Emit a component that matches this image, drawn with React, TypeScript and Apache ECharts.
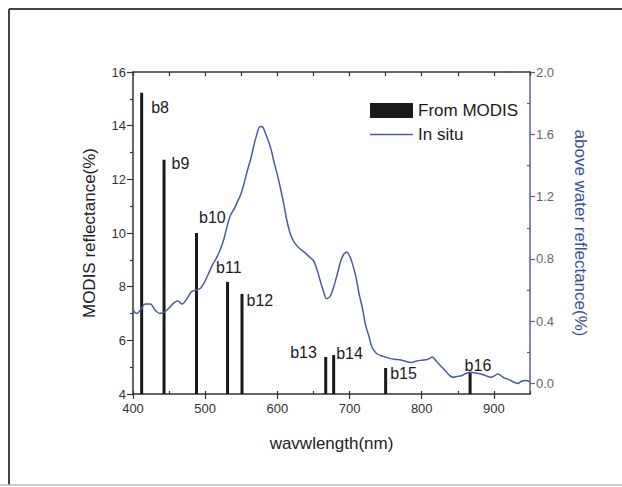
import React, { useEffect, useRef } from "react";
import * as echarts from "echarts";

const bandNames = ["b8", "b9", "b10", "b11", "b12", "b13", "b14", "b15", "b16"];
const bandWavelengths = [412, 443, 488, 531, 551, 667, 678, 750, 867];
const modisReflectance = [15.23, 12.73, 10.0, 8.18, 7.73, 5.38, 5.45, 4.97, 4.78];
// label placement (style), relative to bar top-left
const labelOffsets = [
  [11, 7], [9, -4], [4, -24], [-10, -22], [6, -1], [-34, -12], [4, -10], [6, -2], [-4, -16],
];

const insituWavelengths = [
  400, 405, 410, 417, 424, 431, 437, 444, 451, 457, 462, 468, 474, 481, 487, 493, 499, 504, 510, 516,
  521, 526, 531, 535, 540, 544, 549, 553, 558, 563, 567, 571, 576, 580, 584, 588, 592, 596, 600, 604,
  609, 613, 618, 623, 630, 637, 644, 650, 655, 660, 664, 668, 673, 678, 684, 688, 692, 696, 700, 704,
  709, 713, 718, 722, 727, 731, 737, 743, 750, 757, 765, 772, 780, 786, 793, 800, 808, 815, 820, 826,
  832, 838, 843, 849, 855, 861, 868, 875, 882, 889, 896, 901, 905, 910, 915, 919, 925, 930, 933, 938,
  944, 950,
];
const insituReflectance = [
  0.47, 0.45, 0.47, 0.51, 0.51, 0.47, 0.45, 0.46, 0.49, 0.52, 0.53, 0.51, 0.54, 0.59, 0.6, 0.61, 0.65, 0.7, 0.76, 0.81,
  0.86, 0.93, 1.02, 1.08, 1.12, 1.16, 1.21, 1.27, 1.36, 1.44, 1.52, 1.59, 1.65, 1.645, 1.6, 1.55, 1.49, 1.41, 1.34, 1.26,
  1.15, 1.05, 0.96, 0.91, 0.87, 0.845, 0.815, 0.79, 0.73, 0.65, 0.59, 0.545, 0.56, 0.62, 0.72, 0.79, 0.83, 0.845, 0.82, 0.77,
  0.68, 0.58, 0.48, 0.38, 0.3, 0.235, 0.195, 0.18, 0.17, 0.16, 0.155, 0.15, 0.14, 0.135, 0.145, 0.15, 0.155, 0.17, 0.145, 0.115,
  0.085, 0.055, 0.04, 0.045, 0.05, 0.065, 0.073, 0.068, 0.062, 0.05, 0.04, 0.05, 0.062, 0.05, 0.035, 0.03, 0.015, 0.005, 0.0, 0.015,
  0.02, 0.012,
];

const xTickLabels = [400, 500, 600, 700, 800, 900];
const rightTickLabels = [0, 0.4, 0.8, 1.2, 1.6, 2.0];
const rightMinorTicks = [0.2, 0.6, 1.0, 1.4, 1.8];

const FONT = "'Liberation Sans', Arial, Helvetica, sans-serif";
const LINE_COLOR = "#4a5d9c";

export default function App() {
  const ref = useRef<HTMLDivElement>(null);

  useEffect(() => {
    if (!ref.current) return;
    const chart = echarts.init(ref.current, undefined, { renderer: "svg" });
    const axisColor = "#333";
    const rightColor = "#56638a";
    chart.setOption({
      animation: false,
      backgroundColor: "#ffffff",
      textStyle: { fontFamily: FONT },
      grid: { left: 133, right: 92, top: 72, bottom: 93 },
      legend: {
        data: [
          { name: "From MODIS", icon: "rect" },
          {
            name: "In situ",
            icon: "path://M0,0 L43,0 L43,1.6 L0,1.6 Z",
            itemStyle: { color: LINE_COLOR, borderWidth: 0 },
          },
        ],
        orient: "vertical",
        left: 365,
        top: 97,
        itemWidth: 43,
        itemHeight: 15,
        itemGap: 7,
        symbolKeepAspect: true,
        selectedMode: false,
        textStyle: { fontSize: 17, color: "#1a1a1a", fontFamily: FONT },
      },
      xAxis: [
        {
          type: "value",
          position: "bottom",
          min: 400,
          max: 950,
          axisLine: { onZero: false, lineStyle: { color: axisColor, width: 1.5 } },
          axisTick: { customValues: xTickLabels, length: 5, lineStyle: { color: axisColor, width: 1.2 } },
          axisLabel: { customValues: xTickLabels, fontSize: 13, color: "#333", margin: 8, fontFamily: FONT },
          splitLine: { show: false },
          name: "wavwlength(nm)",
          nameLocation: "middle",
          nameGap: 41,
          nameTextStyle: { fontSize: 17, color: "#222", fontFamily: FONT },
        },
        {
          type: "value",
          position: "top",
          min: 400,
          max: 950,
          interval: 50,
          axisLine: { show: true, onZero: false, lineStyle: { color: axisColor, width: 1.5 } },
          axisTick: { show: true, inside: true, length: 4, lineStyle: { color: axisColor, width: 1.2 } },
          axisLabel: { show: false },
          splitLine: { show: false },
        },
        {
          type: "value",
          position: "bottom",
          min: 400,
          max: 950,
          interval: 50,
          axisLine: { show: false, onZero: false },
          axisTick: { show: true, inside: true, length: 3, lineStyle: { color: axisColor, width: 1.2 } },
          axisLabel: { show: false },
          splitLine: { show: false },
        },
      ],
      yAxis: [
        {
          type: "value",
          position: "left",
          min: 4,
          max: 16,
          interval: 2,
          axisLine: { show: true, onZero: false, lineStyle: { color: axisColor, width: 1.5 } },
          axisTick: { show: true, length: 6, lineStyle: { color: axisColor, width: 1.2 } },
          minorTick: { show: true, splitNumber: 2, length: 3, lineStyle: { color: axisColor, width: 1.2 } },
          axisLabel: { fontSize: 13, color: "#333", margin: 7, fontFamily: FONT },
          splitLine: { show: false },
          minorSplitLine: { show: false },
          name: "MODIS reflectance(%)",
          nameLocation: "middle",
          nameGap: 35,
          nameRotate: 90,
          nameTextStyle: { fontSize: 17, color: "#222", fontFamily: FONT },
        },
        {
          type: "value",
          position: "right",
          min: -0.067,
          max: 2.0,
          axisLine: { show: true, onZero: false, lineStyle: { color: rightColor, width: 1.5 } },
          axisTick: { show: true, customValues: rightTickLabels, length: 5, lineStyle: { color: rightColor, width: 1.2 } },
          axisLabel: {
            customValues: rightTickLabels,
            formatter: (v: number) => v.toFixed(1),
            fontSize: 13,
            color: "#666",
            margin: 6,
            fontFamily: FONT,
          },
          splitLine: { show: false },
          name: "above water reflectance(%)",
          nameLocation: "middle",
          nameGap: 42,
          nameRotate: -90,
          nameTextStyle: { fontSize: 17, color: "#3d4f96", fontFamily: FONT },
        },
        {
          type: "value",
          position: "right",
          min: -0.067,
          max: 2.0,
          axisLine: { show: false, onZero: false },
          axisTick: { show: true, customValues: rightMinorTicks, inside: true, length: 3, lineStyle: { color: rightColor, width: 1.2 } },
          axisLabel: { show: false },
          splitLine: { show: false },
        },
      ],
      series: [
        {
          type: "bar",
          name: "From MODIS",
          xAxisIndex: 0,
          yAxisIndex: 0,
          barWidth: 3,
          itemStyle: { color: "#1a1a1a" },
          data: bandWavelengths.map((w, i) => ({
            value: [w, modisReflectance[i]],
            label: {
              show: true,
              formatter: bandNames[i],
              position: labelOffsets[i],
              fontSize: 16,
              color: "#1a1a1a",
              fontFamily: FONT,
            },
          })),
        },
        {
          type: "line",
          name: "In situ",
          xAxisIndex: 0,
          yAxisIndex: 1,
          symbol: "none",
          smooth: 0.3,
          lineStyle: { color: LINE_COLOR, width: 1.5 },
          itemStyle: { color: LINE_COLOR },
          data: insituWavelengths.map((w, i) => [w, insituReflectance[i]]),
        },
      ],
      graphic: [
        { type: "line", shape: { x1: 9, y1: 9, x2: 622, y2: 9 }, style: { stroke: "#444", lineWidth: 2 } },
        { type: "line", shape: { x1: 9, y1: 9, x2: 9, y2: 485 }, style: { stroke: "#444", lineWidth: 2 } },
        { type: "line", shape: { x1: 0, y1: 485, x2: 622, y2: 485 }, style: { stroke: "#bbb", lineWidth: 1.5 } },
      ],
    });
    return () => chart.dispose();
  }, []);

  return (
    <div
      ref={ref}
      style={{ position: "absolute", left: 0, top: 0, width: 622, height: 487 }}
    />
  );
}
